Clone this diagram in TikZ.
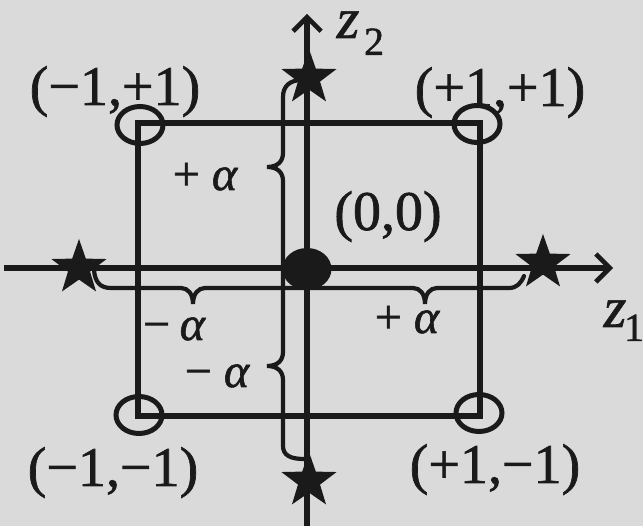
\documentclass[tikz,border=0pt]{standalone}
\usepackage{fontspec}
\setmainfont{Liberation Serif}
\usetikzlibrary{arrows.meta,shapes.geometric}
\definecolor{bg}{HTML}{DADADA}
\definecolor{ink}{HTML}{1A1A1A}
\tikzset{
  axisline/.style={draw=ink, line width=5.4pt, -{Straight Barb[length=14pt,width=28pt,line width=4.6pt]}},
  sqline/.style={draw=ink, line width=5.4pt, line join=miter},
  braceline/.style={draw=ink, line width=4.2pt, line cap=round},
  ring/.style={ellipse, draw=ink, line width=5pt, minimum width=46pt, minimum height=37pt, inner sep=0pt},
  centerdot/.style={ellipse, fill=ink, minimum width=49pt, minimum height=42pt, inner sep=0pt},
  starpt/.style={star, star points=5, star point ratio=2.5, fill=ink, minimum size=58pt, inner sep=0pt},
  biglbl/.style={text=ink, inner sep=0pt, anchor=base, font=\fontsize{56}{60}\selectfont\addfontfeatures{FakeBold=1.2}},
  alphalbl/.style={text=ink, inner sep=0pt, anchor=base, font=\fontsize{48}{52}\selectfont\addfontfeatures{FakeBold=1.2}},
  zlbl/.style={text=ink, inner sep=0pt, anchor=base, text height=27pt, text depth=0pt, font=\fontsize{58}{62}\selectfont\itshape\addfontfeatures{FakeBold=1.2}},
  sublbl/.style={text=ink, inner sep=0pt, anchor=base, text height=27pt, text depth=0pt, font=\fontsize{40}{44}\selectfont\addfontfeatures{FakeBold=1.2}},
}
\begin{document}
\begin{tikzpicture}[x=1pt,y=-1pt]
\fill[bg] (0,0) rectangle (643,526);
\useasboundingbox (0,0) rectangle (643,526);

% axes
\coordinate (xs) at (4,268);
\coordinate (xe) at (613,268);
\coordinate (ys) at (307,530);
\coordinate (ye) at (307,14);
\draw[axisline] (xs) -- (xe);
\draw[axisline] (ys) -- (ye);

% square
\coordinate (c1) at (138,123);
\coordinate (c2) at (480,123);
\coordinate (c3) at (480,416);
\coordinate (c4) at (138,416);
\draw[sqline] (c1) -- (c2) -- (c3) -- (c4) -- cycle;

% braces
\draw[braceline] (302,80) .. controls (290,80) and (283,86) .. (283,97)
  -- (283,153) .. controls (283,162) and (277,167) .. (267,167)
  .. controls (277,167) and (283,172) .. (283,181)
  -- (283,352) .. controls (283,361) and (277,366) .. (267,366)
  .. controls (277,366) and (283,371) .. (283,380)
  -- (283,446) .. controls (283,455) and (290,459) .. (304,459);
\draw[braceline] (94,270) .. controls (95,282) and (100,288) .. (111,288)
  -- (181,288) .. controls (188,288) and (193,294) .. (193,304)
  .. controls (193,294) and (198,288) .. (205,288)
  -- (413,288) .. controls (420,288) and (425,294) .. (425,304)
  .. controls (425,294) and (430,288) .. (437,288)
  -- (509,288) .. controls (517,288) and (521,283) .. (524,276);

% corner points
\node[ring] (r1) at (140,125) {};
\node[ring] (r2) at (477,124) {};
\node[ring] (r3) at (479,413) {};
\node[ring] (r4) at (139,415) {};

% center point
\node[centerdot] (cp) at (307,269) {};

% star points
\node[starpt] (st) at (309,78) {};
\node[starpt] (sb) at (309,481) {};
\node[starpt] (sl) at (79,268) {};
\node[starpt] (sr) at (543,263) {};

% labels
\node[biglbl] (lmp) at (115,105) {(−1,+1)};
\node[biglbl] (lpp) at (500,106) {(+1,+1)};
\node[biglbl] (lmm) at (113,486) {(−1,−1)};
\node[biglbl] (lpm) at (495,483) {(+1,−1)};
\node[biglbl] (l00) at (388,230) {(0,0)};

\node[alphalbl] (ap1) at (205,190) {+ {\itshape α}};
\node[alphalbl] (am1) at (174,340) {−\hspace{0.2em}{\itshape α}};
\node[alphalbl] (ap2) at (407,333) {+ {\itshape α}};
\node[alphalbl] (am2) at (217,387) {− {\itshape α}};

\node[zlbl] (z2) at (348,38) {z};
\node[sublbl] (z2i) at (374,55) {2};
\node[zlbl] (z1) at (615,327) {z};
\node[sublbl] (z1i) at (634,341) {1};
\end{tikzpicture}
\end{document}
